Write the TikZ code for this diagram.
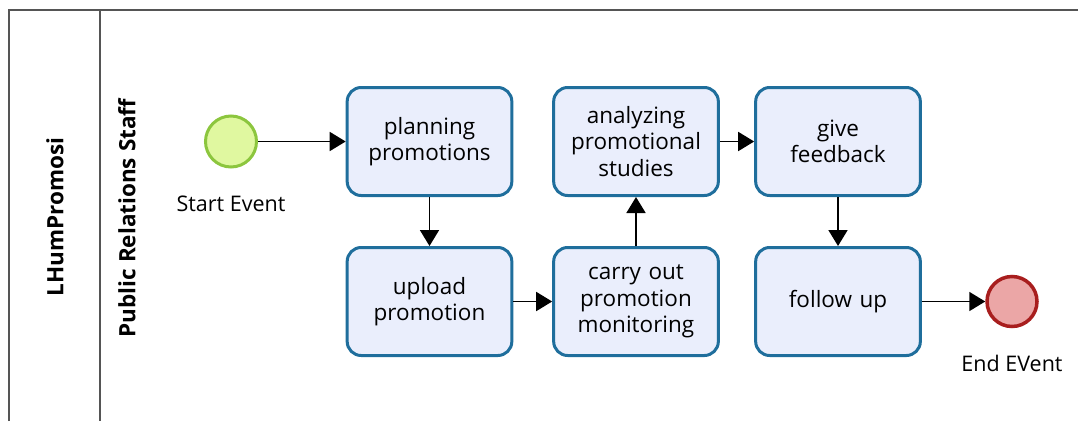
\documentclass[tikz,border=0pt]{standalone}
\usepackage{fontspec}
\setmainfont{Open Sans}
\usetikzlibrary{arrows.meta}
\definecolor{taskfill}{HTML}{EAEEFC}
\definecolor{taskline}{HTML}{1F6E9C}
\definecolor{startfill}{HTML}{E0F8A0}
\definecolor{startline}{HTML}{8CC63E}
\definecolor{endfill}{HTML}{EBA6A6}
\definecolor{endline}{HTML}{A81E1E}
\definecolor{poolline}{HTML}{555555}
\tikzset{%
  task/.style={%
    rectangle,%
    draw=taskline,%
    fill=taskfill,%
    line width=3pt,%
    rounded corners=14pt,%
    minimum width=162pt,%
    minimum height=108pt,%
    text width=158pt,%
    align=center,%
    font=\fontsize{22.5}{26.5}\selectfont},
  startev/.style={%
    circle,%
    draw=startline,%
    fill=startfill,%
    line width=3pt,%
    minimum size=51pt},
  endev/.style={%
    circle,%
    draw=endline,%
    fill=endfill,%
    line width=3.5pt,%
    minimum size=50pt},
  evlabel/.style={font=\fontsize{21.5}{24}\selectfont},
  lanetitle/.style={rotate=90,font=\bfseries\fontsize{22.5}{26}\selectfont},
  flow/.style={-{Triangle[length=16pt,width=19pt]},line width=1.8pt}
}

\begin{document}
\begin{tikzpicture}[x=1pt,y=-1pt]
        \useasboundingbox (0,0) rectangle (1078,421);
        \draw [poolline,line width=2pt] (9,421) -- (9,10) -- (1078,10);
        \draw [poolline,line width=2pt] (100,10) -- (100,421);
        \node [lanetitle] (pool) at (55,217) {LHumPromosi};
        \node [lanetitle] (lane) at (127,218) {Public Relations Staff};
        \node [startev] (start) at (231,141.5) {};
        \node [evlabel] (startlbl) at (231,204) {Start Event};
        \node [task] (plan) at (429.5,141.5) {planning\\promotions};
        \node [task] (upload) at (429.5,301.5) {upload\\promotion};
        \node [task] (monitor) at (636,301.5) {carry out\\promotion\\monitoring};
        \node [task] (analyze) at (636,141.5) {analyzing\\promotional\\studies};
        \node [task] (feedback) at (838,141.5) {give\\feedback};
        \node [task] (follow) at (838,301.5) {follow up};
        \node [endev] (end) at (1012,301.5) {};
        \node [evlabel] (endlbl) at (1012,363) {End EVent};
        \draw [flow] (start) -- (plan);
        \draw [flow] (plan) -- (upload);
        \draw [flow] (upload) -- (monitor);
        \draw [flow] (monitor) -- (analyze);
        \draw [flow] (analyze) -- (feedback);
        \draw [flow] (feedback) -- (follow);
        \draw [flow] (follow) -- (end);
      \end{tikzpicture}
\end{document}
